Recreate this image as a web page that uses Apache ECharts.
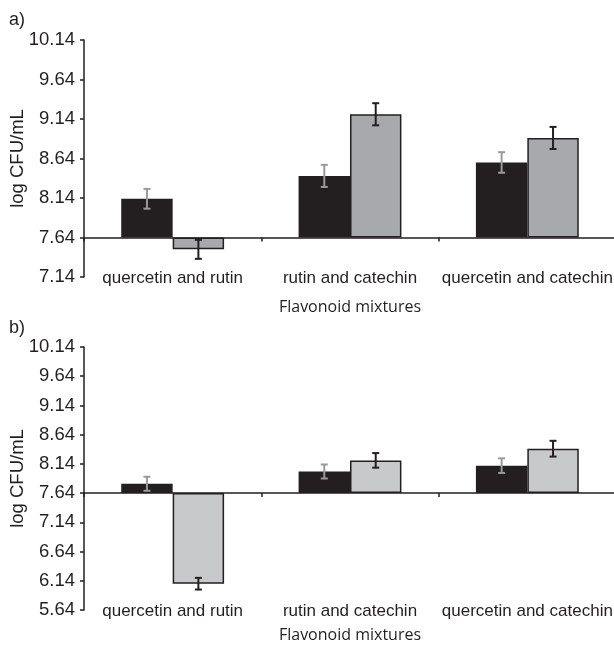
<!DOCTYPE html>
<html><head><meta charset="utf-8">
<script src="https://cdn.jsdelivr.net/npm/echarts@6/dist/echarts.min.js"></script>
<style>html,body{margin:0;padding:0;background:#fff}#c{width:614px;height:647px}</style>
</head><body><div id="c"></div>
<script>
const categories = ['quercetin and rutin', 'rutin and catechin', 'quercetin and catechin'];
const baseline = 7.64;
// panel a
const aDark = [8.13, 8.42, 8.59];
const aDarkErr = [0.125, 0.14, 0.13];
const aGray = [7.49, 9.20, 8.90];
const aGrayErr = [0.12, 0.14, 0.14];
// panel b
const bDark = [7.80, 8.01, 8.11];
const bDarkErr = [0.12, 0.12, 0.125];
const bGray = [6.09, 8.20, 8.40];
const bGrayErr = [0.10, 0.125, 0.135];
// axis ranges (log CFU/mL)
const aRange = [7.14, 10.14];
const bRange = [5.64, 10.14];
const tickStep = 0.5;

const FONT = 'Liberation Sans, Arial, sans-serif';
const INK = '#231f20';

const shift = v => +(v - baseline).toFixed(4);
const errData = (vals, errs) => vals.map((v, i) => [i, shift(v - errs[i]), shift(v + errs[i])]);

function errRender(sign, color) {
  return function (params, api) {
    const c = api.value(0);
    const lo = api.coord([c, api.value(1)]);
    const hi = api.coord([c, api.value(2)]);
    const w = api.size([1, 0])[0];
    const x = lo[0] + sign * w * 0.145;
    const cap = 3.5;
    const st = { stroke: color, lineWidth: 2 };
    return { type: 'group', children: [
      { type: 'line', shape: { x1: x, y1: lo[1], x2: x, y2: hi[1] }, style: st },
      { type: 'line', shape: { x1: x - cap, y1: lo[1], x2: x + cap, y2: lo[1] }, style: st },
      { type: 'line', shape: { x1: x - cap, y1: hi[1], x2: x + cap, y2: hi[1] }, style: st }
    ]};
  };
}

function yAxisCfg(grid, range) {
  return {
    type: 'value', gridIndex: grid,
    min: shift(range[0]), max: shift(range[1]), interval: tickStep,
    name: 'log CFU/mL', nameLocation: 'middle', nameGap: 57, nameMoveOverlap: false,
    nameTextStyle: { fontFamily: FONT, fontSize: 18.5, color: INK },
    axisLine: { show: true, lineStyle: { color: INK, width: 1.5 } },
    axisTick: { show: true, length: 4, lineStyle: { color: INK, width: 1.5 } },
    axisLabel: { fontFamily: FONT, fontSize: 18.5, color: INK, margin: 9,
      formatter: v => (v + baseline).toFixed(2) },
    splitLine: { show: false }
  };
}
function xAxisLine(grid) {
  return {
    type: 'category', gridIndex: grid, data: categories, position: 'bottom',
    axisLine: { show: true, onZero: true, lineStyle: { color: INK, width: 1.5 } },
    axisTick: { show: true, length: 4, inside: false, lineStyle: { color: INK, width: 1.5 } },
    axisLabel: { show: false }
  };
}
function xAxisLabels(grid, gap) {
  return {
    type: 'category', gridIndex: grid, data: categories, position: 'bottom',
    name: 'Flavonoid mixtures', nameLocation: 'middle', nameGap: gap, nameMoveOverlap: false,
    nameTextStyle: { fontFamily: 'Open Sans, sans-serif', fontSize: 16, color: INK },
    axisLine: { show: false, onZero: false }, axisTick: { show: false },
    axisLabel: { interval: 0, fontFamily: FONT, fontSize: 17, color: INK, margin: 1, verticalAlign: 'middle' }
  };
}
function bars(grid, vals, color) {
  return {
    type: 'bar', xAxisIndex: grid * 2, yAxisIndex: grid,
    data: vals.map(shift), barGap: '0%', barCategoryGap: '42%',
    itemStyle: { color: color, borderColor: INK, borderWidth: 1.5 }, z: 2
  };
}
function errs(grid, vals, e, sign, color) {
  return {
    type: 'custom', xAxisIndex: grid * 2, yAxisIndex: grid,
    data: errData(vals, e), renderItem: errRender(sign, color), z: 5
  };
}

const chart = echarts.init(document.getElementById('c'), null, { renderer: 'canvas' });
chart.setOption({
  animation: false,
  backgroundColor: '#fff',
  title: [
    { text: 'a)', left: 4, top: 6, textStyle: { fontFamily: FONT, fontSize: 18, fontWeight: 'normal', color: INK } },
    { text: 'b)', left: 4, top: 314, textStyle: { fontFamily: FONT, fontSize: 18, fontWeight: 'normal', color: INK } }
  ],
  grid: [
    { left: 84, right: -2, top: 40, height: 237, outerBoundsMode: 'none', containLabel: false },
    { left: 84, right: -2, top: 347, height: 263, outerBoundsMode: 'none', containLabel: false }
  ],
  xAxis: [xAxisLine(0), xAxisLabels(0, 22), xAxisLine(1), xAxisLabels(1, 17)],
  yAxis: [yAxisCfg(0, aRange), yAxisCfg(1, bRange)],
  series: [
    bars(0, aDark, INK), bars(0, aGray, '#a7a9ac'),
    errs(0, aDark, aDarkErr, -1, '#9a9a9a'), errs(0, aGray, aGrayErr, 1, INK),
    bars(1, bDark, INK), bars(1, bGray, '#c8c9cb'),
    errs(1, bDark, bDarkErr, -1, '#9a9a9a'), errs(1, bGray, bGrayErr, 1, INK)
  ]
});
</script></body></html>
